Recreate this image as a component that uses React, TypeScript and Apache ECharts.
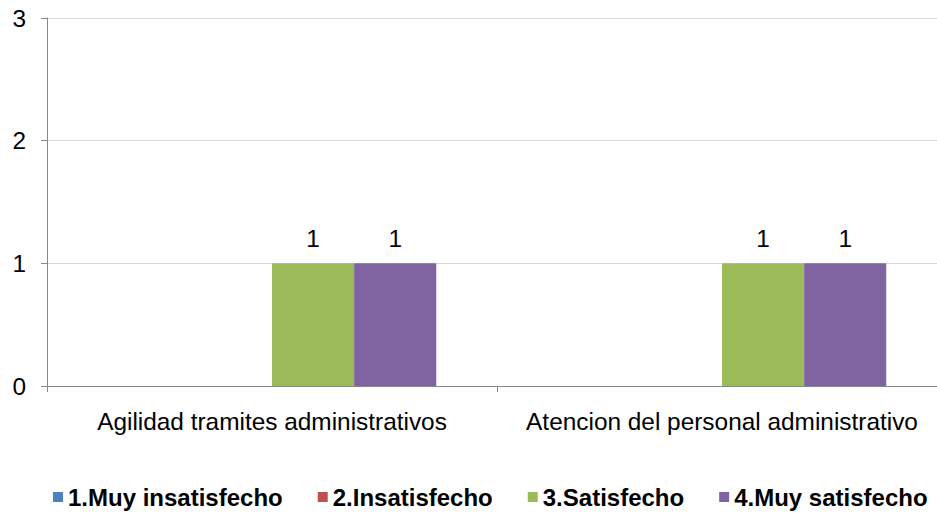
import React, { useEffect, useRef } from "react";
import * as echarts from "echarts";

const categories = ["Agilidad tramites administrativos", "Atencion del personal administrativo"];
const seriesNames = ["1.Muy insatisfecho", "2.Insatisfecho", "3.Satisfecho", "4.Muy satisfecho"];
const muyInsatisfecho = [0, 0];
const insatisfecho = [0, 0];
const satisfecho = [1, 1];
const muySatisfecho = [1, 1];
const seriesColors = ["#4f81bd", "#c0504d", "#9bbb59", "#8064a2"];
const yTicks = { min: 0, max: 3, interval: 1 };

const FONT = "'Liberation Sans', Arial, sans-serif";

export default function App() {
  const ref = useRef<HTMLDivElement>(null);
  useEffect(() => {
    if (!ref.current) return;
    const chart = echarts.init(ref.current, null, { renderer: "svg" });
    const values = [muyInsatisfecho, insatisfecho, satisfecho, muySatisfecho];
    chart.setOption({
      animation: false,
      backgroundColor: "#ffffff",
      textStyle: { fontFamily: FONT },
      grid: { left: 47, right: 0, top: 18, bottom: 132, containLabel: false },
      legend: {
        bottom: 4,
        left: 48,
        icon: "rect",
        itemWidth: 10,
        itemHeight: 10,
        itemGap: 35,
        data: seriesNames,
        textStyle: { fontFamily: FONT, fontSize: 24, fontWeight: "bold", color: "#000" },
      },
      xAxis: {
        type: "category",
        data: categories,
        axisLine: { lineStyle: { color: "#888888", width: 1 } },
        axisTick: { show: true, length: 6, lineStyle: { color: "#888888" } },
        axisLabel: { interval: 0, margin: 23, fontSize: 24.4, color: "#000", fontFamily: FONT },
      },
      yAxis: {
        type: "value",
        min: yTicks.min,
        max: yTicks.max,
        interval: yTicks.interval,
        axisLine: { show: true, lineStyle: { color: "#888888", width: 1 } },
        axisTick: { show: true, length: 6, lineStyle: { color: "#888888" } },
        axisLabel: { margin: 21, fontSize: 24.4, color: "#000", fontFamily: FONT },
        splitLine: { lineStyle: { color: "#d9d9d9", width: 1 } },
      },
      series: seriesNames.map((name, i) => ({
        name,
        type: "bar",
        data: values[i],
        barGap: "0%",
        barCategoryGap: "27%",
        itemStyle: { color: seriesColors[i] },
        label: {
          show: true,
          position: "top",
          distance: 13,
          fontSize: 24.4,
          color: "#000",
          fontFamily: FONT,
          formatter: (p: any) => (p.value ? String(p.value) : ""),
        },
      })),
    });
    return () => chart.dispose();
  }, []);
  return (
    <div
      style={{
        position: "absolute",
        left: 0,
        top: 0,
        width: 937,
        height: 518,
        overflow: "hidden",
        background: "#ffffff",
      }}
    >
      <div ref={ref} style={{ width: 947, height: 518 }} />
    </div>
  );
}
